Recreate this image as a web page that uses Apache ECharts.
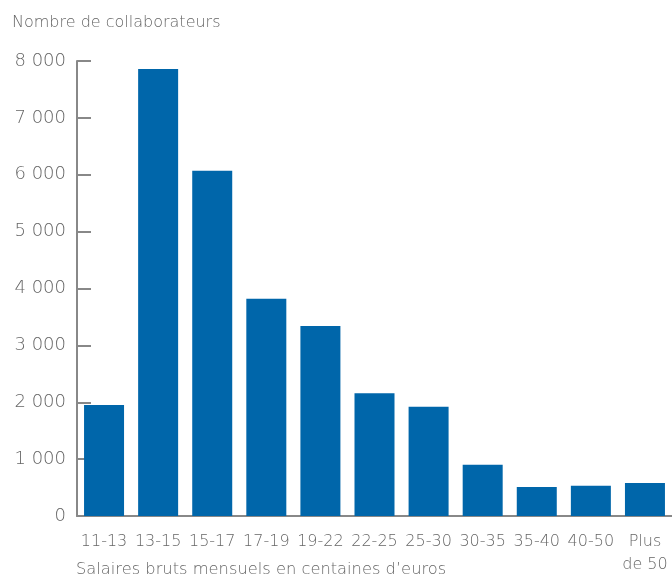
<!DOCTYPE html>
<html><head><meta charset="utf-8">
<script src="https://cdn.jsdelivr.net/npm/echarts@6/dist/echarts.min.js"></script>
<style>html,body{margin:0;padding:0;background:#fff}#c{width:672px;height:579px}</style>
</head><body><div id="c"></div>
<script>
const categories = ['11-13','13-15','15-17','17-19','19-22','22-25','25-30','30-35','35-40','40-50','Plus\nde 50'];
const values = [1950, 7860, 6070, 3820, 3340, 2160, 1920, 900, 510, 530, 580];
const yTitle = 'Nombre de collaborateurs';
const xTitle = 'Salaires bruts mensuels en centaines d\u2019euros';

const FONT = '"DejaVu Sans", sans-serif';
const chart = echarts.init(document.getElementById('c'));
chart.setOption({
  animation: false,
  textStyle: { fontFamily: FONT },
  title: [
    { text: yTitle, left: 12, top: 15, padding: 0, textStyle: { fontFamily: FONT, fontSize: 16, fontWeight: 200, color: '#666' } },
    { text: xTitle, left: 76, top: 562, padding: 0, textStyle: { fontFamily: FONT, fontSize: 16.3, fontWeight: 200, color: '#666' } }
  ],
  grid: { left: 77, top: 61, bottom: 63, width: 599.5 },
  xAxis: {
    type: 'category',
    data: categories,
    axisLine: { lineStyle: { color: '#888', width: 2 } },
    axisTick: { show: false },
    axisLabel: { color: '#666', fontSize: 16, fontWeight: 200, fontFamily: FONT, margin: 14, lineHeight: 23, interval: 0 }
  },
  yAxis: {
    type: 'value',
    min: 0, max: 8000, interval: 1000,
    splitLine: { show: false },
    axisLine: { show: true, lineStyle: { color: '#888', width: 2 } },
    axisTick: { show: true, inside: true, length: 14, lineStyle: { color: '#888', width: 2 } },
    axisLabel: {
      color: '#666', fontSize: 18, fontWeight: 200, fontFamily: FONT, margin: 11,
      formatter: v => String(v).replace(/\B(?=(\d{3})+(?!\d))/g, ' ')
    }
  },
  series: [{
    type: 'bar',
    data: values,
    barWidth: 40,
    itemStyle: { color: '#0066AA' }
  }]
});
</script></body></html>
